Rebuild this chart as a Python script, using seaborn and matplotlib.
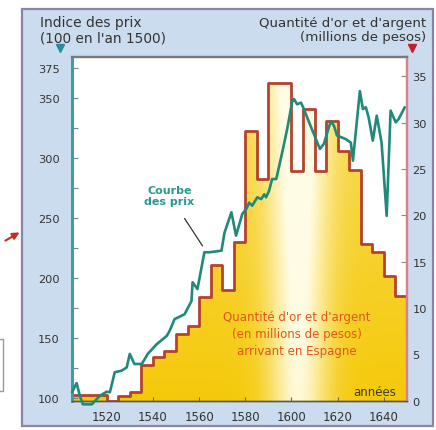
import numpy as np
import matplotlib
matplotlib.use("Agg")
import matplotlib.pyplot as plt
import seaborn as sns
from matplotlib.patches import Rectangle, FancyArrowPatch

# gold + silver arriving in Spain, millions of pesos, per 5-year period
period_start = [1505, 1510, 1515, 1520, 1525, 1530, 1535, 1540, 1545, 1550,
                1555, 1560, 1565, 1570, 1575, 1580, 1585, 1590, 1595, 1600,
                1605, 1610, 1615, 1620, 1625, 1630, 1635, 1640, 1645]
treasure = [0.6, 0.6, 0.6, 0.0, 0.5, 0.9, 3.8, 4.7, 5.4, 7.2,
            8.1, 11.2, 14.6, 12.0, 17.1, 29.1, 23.9, 34.3, 34.3, 24.8,
            31.5, 24.8, 30.2, 27.0, 24.9, 16.9, 16.0, 13.5, 11.3]
period_end = 1650

# price index (100 in 1500)
price_year = [1505, 1507, 1508.4, 1509.7, 1513.6, 1517, 1520, 1521.4, 1523.5, 1526.5,
              1528.7, 1530, 1532, 1535.2, 1537.8, 1541.6, 1546, 1547.2, 1549.4, 1553.7,
              1556.7, 1557.2, 1559.3, 1562.3, 1564.5, 1569.7, 1571, 1574, 1576, 1578.7,
              1580.4, 1581.7, 1583, 1585.2, 1586.9, 1588.2, 1589, 1590.3, 1591.6, 1593.4,
              1596, 1598.1, 1600.3, 1601.1, 1602.4, 1604.1, 1605.4, 1607.6, 1608.9, 1612.3,
              1614, 1617, 1618.4, 1619.7, 1623.5, 1625.7, 1626.6, 1629.6, 1630.9, 1632.2,
              1633.4, 1635.2, 1636.9, 1639, 1641.2, 1642.9, 1645.1, 1646.4, 1649]
price_index = [105, 112.7, 102, 95, 95, 102, 105.5, 105, 121.7, 123,
               125.8, 137, 128.6, 128.6, 137, 145, 152, 156, 166, 170,
               181, 196.7, 191, 221.7, 221.7, 223, 238, 255, 235.5, 253.6,
               257.7, 263, 260.5, 267.5, 266, 270, 267.5, 273, 282.7, 282.7,
               305, 324, 347, 349.4, 345, 346.4, 341, 330, 324, 307.8,
               312, 331, 327, 319, 316, 313, 298, 356, 341, 342.5,
               334, 314.7, 335.5, 313, 252, 339.7, 330, 332.7, 342.5]

price_ticks = [100, 150, 200, 250, 300, 350, 375]
price_minor = [125, 175, 225, 275, 325]
treasure_ticks = [0, 5, 10, 15, 20, 25, 30, 35]
year_ticks = [1520, 1540, 1560, 1580, 1600, 1620, 1640]

sns.set_style("white")
plt.rcParams["font.family"] = ["DejaVu Sans"]

W, H = 436, 431
fig = plt.figure(figsize=(W / 100, H / 100), dpi=100)
fig.patch.set_facecolor("white")

def fx(px):
    return px / W

def fy(py):
    return 1 - py / H

# light blue panel
fig.patches.append(Rectangle((fx(22), fy(427)), fx(433) - fx(22), fy(10) - fy(427),
                             transform=fig.transFigure, facecolor="#cbdcef",
                             edgecolor="#8a84a6", lw=1.6, zorder=-2))
fig.patches.append(Rectangle((fx(-2), fy(392)), fx(5), fy(340) - fy(392),
                             transform=fig.transFigure, facecolor="none",
                             edgecolor="#9a9a9a", lw=1, zorder=-2))
fig.patches.append(FancyArrowPatch((fx(3), fy(243)), (fx(22), fy(232)),
                                   transform=fig.transFigure, arrowstyle="-|>",
                                   mutation_scale=10, color="#c0301c", lw=1.5,
                                   zorder=-1))

ax = fig.add_axes([fx(72), fy(401.7), fx(407) - fx(72), fy(58) - fy(401.7)])
ax2 = ax.twinx()
ax.set_zorder(2)
ax2.set_zorder(1)
ax.patch.set_visible(False)
ax2.patch.set_visible(True)
ax2.patch.set_facecolor("white")

# treasure step on right axis
edges = period_start + [period_end]
vals = treasure + [treasure[-1]]
poly = ax2.fill_between(edges, vals, step="post", facecolor="none", edgecolor="none")

gx = np.linspace(1505, 1650, 400)
gy = np.linspace(0, 37.1, 120)
X, Y = np.meshgrid(gx, gy)
w = 0.92 * np.exp(-((X - 1603) / 13.0) ** 2) + 0.35 * (Y / 35.0)
w = np.clip(w, 0, 1)[..., None]
yellow = np.array([0.96, 0.79, 0.04])
pale = np.array([1.0, 0.99, 0.90])
rgb = yellow * (1 - w) + pale * w
im = ax2.imshow(rgb, extent=(1505, 1650, 0, 37.1), origin="lower",
                aspect="auto", zorder=1, interpolation="bilinear")
im.set_clip_path(poly.get_paths()[0], ax2.transData)

sns.lineplot(x=edges, y=vals, drawstyle="steps-post", ax=ax2,
             color="#b4422c", lw=2, zorder=3)

# price curve on left axis
sns.lineplot(x=price_year, y=price_index, ax=ax, color="#1f8a78", lw=1.9, zorder=4)
for ln in ax.lines:
    ln.set_clip_on(False)

ax.set_xlim(1505, 1650)
ax.set_ylim(98, 384.4)
ax2.set_xlim(1505, 1650)
ax2.set_ylim(0, 37.1)
ax.set_xlabel("")
ax.set_ylabel("")
ax2.set_ylabel("")

ax.set_yticks(price_ticks)
ax.set_yticks(price_minor, minor=True)
ax.set_xticks(year_ticks)
ax2.set_yticks(treasure_ticks)

ax.tick_params(axis="y", which="both", direction="in", length=4, width=0.8,
               color="#6a8a9a", labelsize=8.2, labelcolor="#333333", pad=9,
               left=True)
ax.tick_params(axis="x", direction="in", length=3, width=0.8, color="#666666",
               labelsize=8.5, labelcolor="#333333", pad=7, bottom=True)
ax2.tick_params(axis="y", direction="in", length=4, width=0.8, color="#8a8a8a",
                labelsize=8.2, labelcolor="#333333", pad=4, right=True)

for a in (ax, ax2):
    a.spines["left"].set_color("#3a9fa0")
    a.spines["left"].set_linewidth(2)
    a.spines["right"].set_color("#d9808e")
    a.spines["right"].set_linewidth(1.6)
    a.spines["top"].set_color("#7a7a7a")
    a.spines["top"].set_linewidth(1.6)
    a.spines["bottom"].set_color("#5a5a4a")
    a.spines["bottom"].set_linewidth(1)

# headers
fig.text(fx(40), fy(23), "Indice des prix", fontsize=10, color="#333333", va="center")
fig.text(fx(40), fy(38), "(100 en l'an 1500)", fontsize=9.8, color="#333333", va="center")
fig.text(fx(426), fy(23), "Quantité d'or et d'argent", fontsize=9.6, color="#333333",
         va="center", ha="right")
fig.text(fx(426), fy(38), "(millions de pesos)", fontsize=9.6, color="#333333",
         va="center", ha="right")
ax.plot([-0.036], [1.026], marker="v", ms=6, color="#2a8aa0",
        transform=ax.transAxes, clip_on=False)
ax.plot([1.015], [1.026], marker="v", ms=6, color="#c0202c",
        transform=ax.transAxes, clip_on=False)

# annotations
ax.annotate("Courbe\ndes prix", xy=(1561.5, 227), xytext=(1547.2, 269),
            ha="center", va="center", fontsize=8, color="#2a9a8a",
            fontweight="bold", linespacing=1.1,
            arrowprops=dict(arrowstyle="-", color="#333333", lw=0.9,
                            shrinkA=8, shrinkB=0))
ax2.text(1602.4, 7.2, "Quantité d'or et d'argent\n(en millions de pesos)\narrivant en Espagne",
         ha="center", va="center", fontsize=8.5, color="#e0561c", linespacing=1.4,
         zorder=5)
ax2.text(1645.1, 0.94, "années", ha="right", va="center", fontsize=8.5,
         color="#3a3a2a", zorder=5)

fig.savefig("out.png", dpi=100)
